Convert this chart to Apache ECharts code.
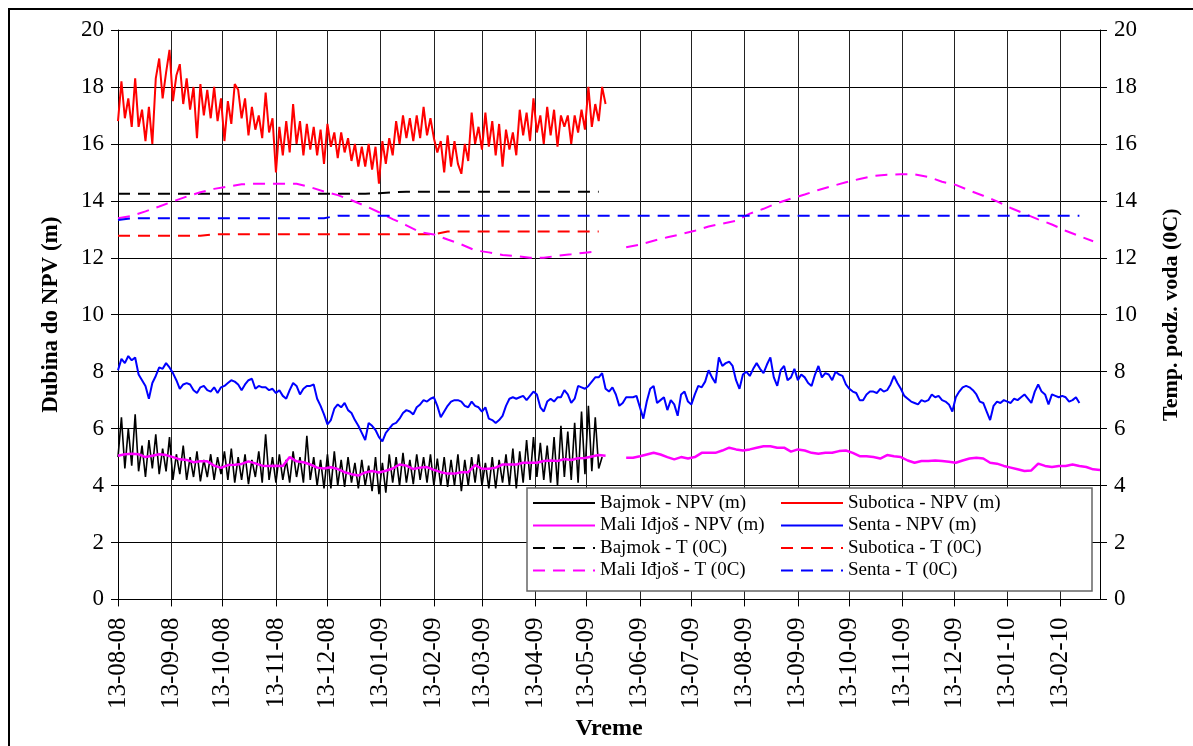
<!DOCTYPE html>
<html><head><meta charset="utf-8">
<script src="https://cdn.jsdelivr.net/npm/echarts@6/dist/echarts.min.js"></script>
<style>html,body{margin:0;padding:0;background:#fff}#c{width:1193px;height:746px}</style>
</head><body><div id="c"></div>
<script>
// ---- data ----
const startDate = '2008-08-13';
const axisEnd = '2010-03-08';
const tickDates = ['2008-08-13','2008-09-13','2008-10-13','2008-11-13','2008-12-13','2009-01-13','2009-02-13','2009-03-13','2009-04-13','2009-05-13','2009-06-13','2009-07-13','2009-08-13','2009-09-13','2009-10-13','2009-11-13','2009-12-13','2010-01-13','2010-02-13'];

// sampling step (days) of each series, counted from startDate
const npvStep = 2;       // Bajmok, Subotica, Senta NPV
const maliNpvStep = 4;   // Mali Iđjoš NPV
const tempStep = 8;      // all temperatures

const bajmokNPV = [5.0,6.4,4.6,6.0,4.7,6.5,
4.5,5.4,4.3,5.6,4.6,5.8,4.4,5.3,4.5,5.7,
4.2,5.1,4.4,5.4,4.2,5.0,4.3,5.2,4.15,4.9,4.3,5.1,4.2,5.0,4.4,5.2,4.2,5.3,
4.1,5.0,4.2,5.1,4.05,4.9,4.3,5.2,4.1,5.8,4.2,5.0,4.1,
5.1,4.2,4.9,4.1,5.2,4.3,5.0,4.1,5.75,4.2,5.0,4.0,4.9,3.9,5.1,
3.9,5.2,4.0,4.9,3.95,5.0,4.1,4.8,3.9,4.9,4.0,4.7,3.8,5.0,3.7,4.8,
3.75,5.1,4.1,5.0,4.0,5.15,4.1,4.9,4.05,5.1,4.2,5.0,4.1,5.1,4.0,4.95,
4.0,5.0,3.95,4.9,4.0,5.1,3.8,4.9,4.0,5.0,4.1,5.1,4.0,4.8,3.9,
5.0,3.9,4.9,4.1,5.1,4.0,5.3,3.9,5.2,4.1,5.6,4.2,5.7,4.3,
5.5,4.2,5.4,4.1,5.7,4.0,6.1,4.3,5.9,4.2,6.2,
4.1,6.6,4.4,6.8,4.5,6.4,4.6,5.0];

const suboticaNPV = [16.8,18.2,16.9,17.6,16.6,18.3,16.6,17.2,16.1,17.3,
16.0,18.3,19.0,17.6,18.5,19.3,17.5,18.4,18.8,17.4,
18.3,17.2,18.0,16.2,18.1,17.0,17.9,16.9,18.0,16.8,
17.6,16.1,17.5,16.7,18.1,17.9,16.9,17.6,16.3,17.3,
16.5,17.0,16.2,17.8,16.4,16.9,15.0,16.6,15.6,16.8,
15.7,17.4,16.0,16.8,15.6,16.7,15.8,16.6,15.6,16.5,
15.3,16.7,15.9,16.4,15.5,16.4,15.7,16.2,15.4,16.0,
15.2,15.9,15.2,16.0,15.1,15.9,14.6,16.1,15.3,16.2,
15.6,16.8,16.0,17.0,16.2,16.9,16.1,17.0,16.2,17.3,
16.3,16.9,16.2,15.7,16.1,15.0,16.3,15.2,16.1,15.3,
14.95,16.0,15.4,17.1,16.0,16.6,15.8,17.1,15.9,16.8,
15.6,16.7,15.2,16.5,15.8,16.4,15.6,17.2,16.3,17.1,
16.1,17.6,16.4,17.0,16.0,17.3,16.3,17.2,15.9,17.0,
16.6,17.0,16.0,17.0,16.4,17.2,16.5,18.0,16.6,17.4,
16.8,18.0,17.4];

const maliNPV = [5.05,5.1,5.12,5.1,5.0,5.05,5.1,5.07,5.0,4.92,
4.9,4.82,4.85,4.85,4.7,4.62,4.72,4.73,4.76,4.85,
4.78,4.7,4.69,4.7,4.69,5.0,4.85,4.82,4.74,4.63,
4.6,4.64,4.58,4.47,4.4,4.35,4.46,4.51,4.46,4.52,
4.6,4.74,4.7,4.58,4.63,4.65,4.55,4.47,4.42,4.42,
4.47,4.47,4.72,4.59,4.59,4.63,4.74,4.74,4.74,4.8,
4.8,4.8,4.86,4.88,4.86,4.93,4.9,4.96,4.97,5.02,
5.07,5.05,null,null,
4.98,4.98,5.03,5.09,5.15,5.09,5.0,4.92,5.0,4.95,
5.0,5.15,5.15,5.15,5.23,5.33,5.27,5.23,5.27,5.33,
5.38,5.38,5.33,5.33,5.19,5.27,5.23,5.15,5.12,5.15,
5.15,5.21,5.23,5.15,5.03,5.03,5.0,4.95,5.07,5.03,
5.0,4.88,4.8,4.86,4.86,4.88,4.86,4.84,4.8,4.88,
4.95,4.98,4.95,4.8,4.77,4.69,4.63,4.57,4.51,4.53,
4.77,4.69,4.65,4.69,4.69,4.74,4.69,4.65,4.57,4.55];

const sentaNPV = [8.05,8.45,8.3,8.55,8.4,8.5,7.9,7.7,7.5,7.05,
7.6,7.85,8.15,8.1,8.3,8.15,7.95,7.7,7.4,7.55,
7.6,7.55,7.35,7.25,7.45,7.5,7.35,7.3,7.45,7.25,
7.45,7.5,7.6,7.7,7.65,7.55,7.35,7.55,7.7,7.75,
7.4,7.5,7.45,7.45,7.35,7.4,7.25,7.35,7.15,7.05,
7.35,7.6,7.5,7.2,7.4,7.5,7.5,7.55,7.05,6.8,
6.5,6.15,6.3,6.7,6.85,6.75,6.9,6.65,6.55,6.3,
6.1,5.85,5.6,6.2,6.1,5.95,5.7,5.55,5.85,6.0,
6.15,6.2,6.35,6.55,6.65,6.6,6.5,6.75,6.85,7.0,
6.95,7.05,7.1,6.8,6.4,6.6,6.8,6.95,7.0,7.0,
6.95,6.8,6.75,6.95,6.8,6.75,6.6,6.75,6.35,6.3,
6.2,6.3,6.45,6.8,7.05,7.1,7.05,7.1,7.15,7.0,
7.15,7.3,7.2,6.75,6.6,6.95,7.05,6.95,7.1,7.1,
7.35,7.2,6.9,7.05,7.5,
7.45,7.4,7.5,7.65,7.8,7.8,7.95,7.4,7.3,7.45,
7.2,6.8,6.9,7.1,7.1,7.1,7.15,6.75,6.35,6.95,
7.4,7.5,6.9,7.0,7.1,6.65,7.0,6.85,6.45,7.2,
7.3,6.95,6.85,7.2,7.5,7.45,7.65,8.05,7.8,7.6,
8.5,8.2,8.3,8.35,8.2,7.7,7.4,7.9,8.0,7.85,
8.1,8.3,8.1,7.95,8.25,8.5,7.8,7.5,8.05,8.2,
7.7,7.8,8.1,7.7,7.9,7.8,7.6,7.5,7.9,8.2,
7.8,7.95,7.9,7.7,8.0,7.9,7.85,7.55,7.4,7.3,
7.25,7.0,7.0,7.2,7.3,7.3,7.25,7.4,7.3,7.35,
7.55,7.85,7.6,7.4,7.15,7.05,6.95,6.9,6.85,7.0,
6.95,7.0,7.2,7.1,7.15,7.0,6.95,6.85,6.6,7.1,
7.3,7.45,7.5,7.45,7.35,7.2,6.95,6.9,6.6,6.3,
6.8,6.95,6.9,7.0,6.95,6.9,7.05,7.0,7.1,7.2,
7.05,6.9,7.3,7.55,7.3,7.2,6.85,7.2,7.15,7.1,
7.15,7.1,6.95,7.0,7.1,6.9];

const bajmokT = [14.25,14.25,14.25,14.25,14.25,14.25,14.25,14.25,14.25,14.25,
14.25,14.25,14.25,14.25,14.25,14.25,14.25,14.25,14.25,14.27,
14.3,14.32,14.32,14.32,14.32,14.32,14.32,14.32,14.32,14.32,
14.32,14.32,14.32,14.32,14.32,14.32];
const suboticaT = [12.77,12.77,12.77,12.77,12.77,12.77,12.77,12.83,12.83,12.83,
12.83,12.83,12.83,12.83,12.83,12.83,12.83,12.83,12.83,12.83,
12.83,12.83,12.83,12.83,12.92,12.92,12.92,12.92,12.92,12.92,
12.92,12.92,12.92,12.92,12.92,12.92];
const maliT = [13.39,13.47,13.63,13.8,13.98,14.15,14.3,14.42,14.5,14.58,
14.6,14.6,14.6,14.6,14.48,14.33,14.2,14.02,13.82,13.6,
13.36,13.14,12.9,12.82,12.64,12.47,12.26,12.19,12.1,12.06,
12.0,12.0,12.07,12.12,12.18,12.22,null,
12.37,12.46,12.6,12.72,12.83,12.95,13.1,13.2,13.3,13.55,
13.72,13.92,14.08,14.22,14.38,14.52,14.65,14.77,14.87,14.92,
14.93,14.93,14.84,14.67,14.56,14.36,14.18,13.98,13.75,13.55,
13.35,13.17,12.95,12.76,12.58];
const sentaT = [13.33,13.39,13.39,13.39,13.39,13.39,13.39,13.39,13.39,13.39,
13.39,13.39,13.39,13.39,13.39,13.39,13.48,13.48,13.48,13.48,
13.48,13.48,13.48,13.48,13.48,13.48,13.48,13.48,13.48,13.48,
13.48,13.48,13.48,13.48,13.48,13.48,13.48,13.48,13.48,13.48,
13.48,13.48,13.48,13.48,13.48,13.48,13.48,13.48,13.48,13.48,
13.48,13.48,13.48,13.48,13.48,13.48,13.48,13.48,13.48,13.48,
13.48,13.48,13.48,13.48,13.48,13.48,13.48,13.48,13.48,13.48,13.48];

// ---- build ----
const DAY = 86400000;
const t0 = Date.parse(startDate + 'T00:00:00Z');
const tEnd = Date.parse(axisEnd + 'T00:00:00Z');
const ticks = tickDates.map(d => Date.parse(d + 'T00:00:00Z'));
function pts(values, step) { return values.map((v, i) => [t0 + i * step * DAY, v]); }
function fmt(v) {
  const d = new Date(v);
  const p = n => String(n).padStart(2, '0');
  return p(d.getUTCDate()) + '-' + p(d.getUTCMonth() + 1) + '-' + p(d.getUTCFullYear() % 100);
}
const FONT = 'Liberation Serif';
function line(name, data, color, width, dashed, yIdx) {
  return {
    name, type: 'line', data, yAxisIndex: yIdx, symbol: 'none', showSymbol: false,
    connectNulls: false, animation: false,
    lineStyle: { color, width, type: dashed ? [12, 8] : 'solid' },
    itemStyle: { color }
  };
}
const legendText = { fontFamily: FONT, fontSize: 19, color: '#000', lineHeight: 22 };
const legendCommon = {
  orient: 'vertical', top: 492, itemWidth: 62, itemHeight: 12, itemGap: 0.5,
  padding: 0, textStyle: legendText, z: 20, selectedMode: false,
  itemStyle: { opacity: 0 }
};
const chart = echarts.init(document.getElementById('c'), null, { renderer: 'canvas' });
chart.setOption({
  animation: false,
  backgroundColor: '#fff',
  grid: { left: 118, right: 93, top: 30, bottom: 144 },
  xAxis: {
    type: 'value', min: t0, max: tEnd,
    axisLine: { lineStyle: { color: '#000', width: 1 } },
    axisTick: { show: true, customValues: ticks, length: 7, lineStyle: { color: '#000' } },
    axisLabel: { customValues: ticks, rotate: 90, formatter: fmt, fontFamily: FONT, fontSize: 25, color: '#000', margin: 18 },
    splitLine: { show: true, lineStyle: { color: '#222', width: 1 } },
    name: 'Vreme', nameLocation: 'middle', nameGap: 117,
    nameTextStyle: { fontFamily: FONT, fontWeight: 'bold', fontSize: 24, color: '#000' }
  },
  yAxis: [{
    type: 'value', min: 0, max: 20, interval: 2, position: 'left',
    axisLine: { show: true, lineStyle: { color: '#000' } },
    axisTick: { show: true, length: 7, lineStyle: { color: '#000' } },
    axisLabel: { fontFamily: FONT, fontSize: 23, color: '#000', margin: 14 },
    splitLine: { show: true, lineStyle: { color: '#000' } },
    name: 'Dubina do NPV (m)', nameLocation: 'middle', nameRotate: 90, nameGap: 55,
    nameTextStyle: { fontFamily: FONT, fontWeight: 'bold', fontSize: 23, color: '#000' }
  }, {
    type: 'value', min: 0, max: 20, interval: 2, position: 'right',
    axisLine: { show: true, lineStyle: { color: '#000' } },
    axisTick: { show: true, length: 7, lineStyle: { color: '#000' } },
    axisLabel: { fontFamily: FONT, fontSize: 23, color: '#000', margin: 14 },
    splitLine: { show: false },
    name: 'Temp. podz. voda (0C)', nameLocation: 'middle', nameRotate: 90, nameGap: 60,
    nameTextStyle: { fontFamily: FONT, fontWeight: 'bold', fontSize: 22, color: '#000' }
  }],
  legend: [Object.assign({
    data: ['Bajmok - NPV (m)', 'Mali Iđjoš - NPV (m)', 'Bajmok - T (0C)', 'Mali Iđjoš - T (0C)'],
    left: 532
  }, legendCommon), Object.assign({
    data: ['Subotica - NPV (m)', 'Senta - NPV (m)', 'Subotica - T (0C)', 'Senta - T (0C)'],
    left: 780
  }, legendCommon)],
  graphic: [
    { type: 'rect', silent: true, z: 0, shape: { x: 9, y: 9, width: 1200, height: 760 }, style: { fill: null, stroke: '#000', lineWidth: 2 } },
    { type: 'rect', silent: true, z: 10, shape: { x: 527, y: 488, width: 565, height: 103 }, style: { fill: '#fff', stroke: '#666', lineWidth: 1.5 } }
  ],
  series: [
    line('Bajmok - NPV (m)', pts(bajmokNPV, npvStep), '#000000', 1.6, false, 0),
    line('Subotica - NPV (m)', pts(suboticaNPV, npvStep), '#FF0000', 2, false, 0),
    line('Mali Iđjoš - NPV (m)', pts(maliNPV, maliNpvStep), '#FF00FF', 2.5, false, 0),
    line('Senta - NPV (m)', pts(sentaNPV, npvStep), '#0000FF', 2, false, 0),
    line('Bajmok - T (0C)', pts(bajmokT, tempStep), '#000000', 2, true, 1),
    line('Subotica - T (0C)', pts(suboticaT, tempStep), '#FF0000', 2, true, 1),
    line('Mali Iđjoš - T (0C)', pts(maliT, tempStep), '#FF00FF', 2, true, 1),
    line('Senta - T (0C)', pts(sentaT, tempStep), '#0000FF', 2, true, 1)
  ]
});
</script>
</body></html>
